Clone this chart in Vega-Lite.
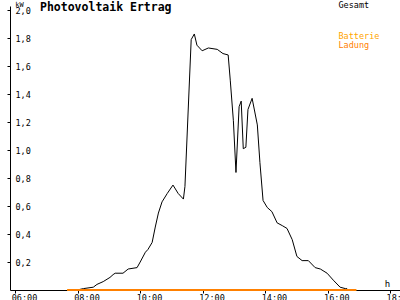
{
  "$schema": "https://vega.github.io/schema/vega-lite/v6.json",
  "width": 390,
  "height": 284,
  "autosize": "none",
  "padding": {"left": 10, "top": 6, "right": 0, "bottom": 10},
  "background": "white",
  "title": {
    "text": "Photovoltaik Ertrag",
    "anchor": "start",
    "frame": "group",
    "font": "DejaVu Sans Mono",
    "fontSize": 11.5,
    "fontWeight": "bold",
    "color": "black",
    "dx": 30,
    "dy": 13,
    "offset": 0
  },
  "datasets": {
    "gesamt": [
      {"t": "2024-06-01T07:59", "kW": 0, "series": "Gesamt"},
      {"t": "2024-06-01T08:11", "kW": 0.01, "series": "Gesamt"},
      {"t": "2024-06-01T08:30", "kW": 0.02, "series": "Gesamt"},
      {"t": "2024-06-01T08:37", "kW": 0.04, "series": "Gesamt"},
      {"t": "2024-06-01T08:49", "kW": 0.06, "series": "Gesamt"},
      {"t": "2024-06-01T09:02", "kW": 0.09, "series": "Gesamt"},
      {"t": "2024-06-01T09:08", "kW": 0.11, "series": "Gesamt"},
      {"t": "2024-06-01T09:12", "kW": 0.12, "series": "Gesamt"},
      {"t": "2024-06-01T09:27", "kW": 0.12, "series": "Gesamt"},
      {"t": "2024-06-01T09:37", "kW": 0.15, "series": "Gesamt"},
      {"t": "2024-06-01T09:54", "kW": 0.16, "series": "Gesamt"},
      {"t": "2024-06-01T10:00", "kW": 0.2, "series": "Gesamt"},
      {"t": "2024-06-01T10:10", "kW": 0.27, "series": "Gesamt"},
      {"t": "2024-06-01T10:15", "kW": 0.29, "series": "Gesamt"},
      {"t": "2024-06-01T10:23", "kW": 0.34, "series": "Gesamt"},
      {"t": "2024-06-01T10:29", "kW": 0.45, "series": "Gesamt"},
      {"t": "2024-06-01T10:35", "kW": 0.55, "series": "Gesamt"},
      {"t": "2024-06-01T10:42", "kW": 0.63, "series": "Gesamt"},
      {"t": "2024-06-01T10:52", "kW": 0.69, "series": "Gesamt"},
      {"t": "2024-06-01T11:03", "kW": 0.75, "series": "Gesamt"},
      {"t": "2024-06-01T11:13", "kW": 0.69, "series": "Gesamt"},
      {"t": "2024-06-01T11:23", "kW": 0.65, "series": "Gesamt"},
      {"t": "2024-06-01T11:26", "kW": 0.74, "series": "Gesamt"},
      {"t": "2024-06-01T11:38", "kW": 1.79, "series": "Gesamt"},
      {"t": "2024-06-01T11:44", "kW": 1.83, "series": "Gesamt"},
      {"t": "2024-06-01T11:49", "kW": 1.75, "series": "Gesamt"},
      {"t": "2024-06-01T11:59", "kW": 1.71, "series": "Gesamt"},
      {"t": "2024-06-01T12:11", "kW": 1.73, "series": "Gesamt"},
      {"t": "2024-06-01T12:28", "kW": 1.72, "series": "Gesamt"},
      {"t": "2024-06-01T12:39", "kW": 1.69, "series": "Gesamt"},
      {"t": "2024-06-01T12:49", "kW": 1.68, "series": "Gesamt"},
      {"t": "2024-06-01T12:53", "kW": 1.5, "series": "Gesamt"},
      {"t": "2024-06-01T12:59", "kW": 1.21, "series": "Gesamt"},
      {"t": "2024-06-01T13:04", "kW": 0.84, "series": "Gesamt"},
      {"t": "2024-06-01T13:10", "kW": 1.31, "series": "Gesamt"},
      {"t": "2024-06-01T13:14", "kW": 1.35, "series": "Gesamt"},
      {"t": "2024-06-01T13:18", "kW": 1.01, "series": "Gesamt"},
      {"t": "2024-06-01T13:23", "kW": 1.02, "series": "Gesamt"},
      {"t": "2024-06-01T13:27", "kW": 1.29, "series": "Gesamt"},
      {"t": "2024-06-01T13:35", "kW": 1.37, "series": "Gesamt"},
      {"t": "2024-06-01T13:45", "kW": 1.18, "series": "Gesamt"},
      {"t": "2024-06-01T13:50", "kW": 0.91, "series": "Gesamt"},
      {"t": "2024-06-01T13:56", "kW": 0.64, "series": "Gesamt"},
      {"t": "2024-06-01T14:04", "kW": 0.59, "series": "Gesamt"},
      {"t": "2024-06-01T14:13", "kW": 0.56, "series": "Gesamt"},
      {"t": "2024-06-01T14:23", "kW": 0.48, "series": "Gesamt"},
      {"t": "2024-06-01T14:33", "kW": 0.46, "series": "Gesamt"},
      {"t": "2024-06-01T14:42", "kW": 0.44, "series": "Gesamt"},
      {"t": "2024-06-01T14:52", "kW": 0.36, "series": "Gesamt"},
      {"t": "2024-06-01T15:01", "kW": 0.24, "series": "Gesamt"},
      {"t": "2024-06-01T15:11", "kW": 0.21, "series": "Gesamt"},
      {"t": "2024-06-01T15:23", "kW": 0.21, "series": "Gesamt"},
      {"t": "2024-06-01T15:36", "kW": 0.16, "series": "Gesamt"},
      {"t": "2024-06-01T15:46", "kW": 0.15, "series": "Gesamt"},
      {"t": "2024-06-01T15:59", "kW": 0.12, "series": "Gesamt"},
      {"t": "2024-06-01T16:11", "kW": 0.07, "series": "Gesamt"},
      {"t": "2024-06-01T16:24", "kW": 0.02, "series": "Gesamt"},
      {"t": "2024-06-01T16:34", "kW": 0.01, "series": "Gesamt"},
      {"t": "2024-06-01T16:37", "kW": 0.01, "series": "Gesamt"},
      {"t": "2024-06-01T16:38", "kW": 0, "series": "Gesamt"}
    ],
    "batterie": [
      {"t": "2024-06-01T07:40", "kW": 0, "series": "Batterie"},
      {"t": "2024-06-01T16:55", "kW": 0, "series": "Batterie"},
      {"t": "2024-06-01T07:40", "kW": 0, "series": "Ladung"},
      {"t": "2024-06-01T16:55", "kW": 0, "series": "Ladung"}
    ]
  },
  "encoding": {
    "x": {
      "field": "t",
      "type": "temporal",
      "scale": {
        "domain": [
          {"year": 2024, "month": 6, "date": 1, "hours": 5, "minutes": 50},
          {"year": 2024, "month": 6, "date": 1, "hours": 18, "minutes": 19}
        ],
        "nice": false
      },
      "axis": {
        "values": [
          {"year": 2024, "month": 6, "date": 1, "hours": 6},
          {"year": 2024, "month": 6, "date": 1, "hours": 8},
          {"year": 2024, "month": 6, "date": 1, "hours": 10},
          {"year": 2024, "month": 6, "date": 1, "hours": 12},
          {"year": 2024, "month": 6, "date": 1, "hours": 14},
          {"year": 2024, "month": 6, "date": 1, "hours": 16},
          {"year": 2024, "month": 6, "date": 1, "hours": 18}
        ],
        "format": "%H:%M",
        "grid": false,
        "domainColor": "black",
        "tickColor": "black",
        "tickSize": 3,
        "labelFont": "DejaVu Sans Mono",
        "labelFontSize": 8.5,
        "labelColor": "black",
        "labelAlign": "left",
        "labelBaseline": "top",
        "labelOffset": -4,
        "labelPadding": 0,
        "labelOverlap": false,
        "labelFlush": false,
        "labelBound": false,
        "title": "h",
        "titleFont": "DejaVu Sans Mono",
        "titleFontSize": 9,
        "titleFontWeight": "normal",
        "titleColor": "black",
        "titleAlign": "center",
        "titleBaseline": "middle",
        "titleX": 377,
        "titleY": -7
      }
    },
    "y": {
      "field": "kW",
      "type": "quantitative",
      "scale": {"domain": [0, 2.03], "nice": false, "zero": true},
      "axis": {
        "values": [0.2, 0.4, 0.6, 0.8, 1.0, 1.2, 1.4, 1.6, 1.8, 2.0],
        "labelExpr": "replace(format(datum.value, '.1f'), '.', ',')",
        "grid": false,
        "domainColor": "black",
        "tickColor": "black",
        "tickSize": 3,
        "labelFont": "DejaVu Sans Mono",
        "labelFontSize": 8.5,
        "labelColor": "black",
        "labelAlign": "left",
        "labelBaseline": "middle",
        "labelPadding": -8,
        "labelOverlap": false,
        "labelFlush": false,
        "labelBound": false,
        "title": "kW",
        "titleFont": "DejaVu Sans Mono",
        "titleFontSize": 7,
        "titleFontWeight": "normal",
        "titleColor": "black",
        "titleAngle": 0,
        "titleAlign": "center",
        "titleBaseline": "middle",
        "titleX": 9,
        "titleY": -2
      }
    }
  },
  "layer": [
    {
      "data": {"name": "gesamt"},
      "mark": {"type": "line", "strokeWidth": 1, "clip": false},
      "encoding": {
        "color": {
          "field": "series",
          "type": "nominal",
          "scale": {"domain": ["Gesamt"], "range": ["black"]},
          "legend": {
            "orient": "none",
            "legendX": 320,
            "legendY": -5,
            "title": null,
            "padding": 0,
            "symbolSize": 0,
            "symbolStrokeWidth": 0,
            "symbolOpacity": 0,
            "labelOffset": 0,
            "labelFont": "DejaVu Sans Mono",
            "labelFontSize": 8.5,
            "labelColor": "black"
          }
        }
      }
    },
    {
      "data": {"name": "batterie"},
      "mark": {"type": "line", "strokeWidth": 2, "clip": false},
      "encoding": {
        "color": {
          "field": "series",
          "type": "nominal",
          "scale": {"domain": ["Batterie", "Ladung"], "range": ["#FFA500", "#FF8000"]},
          "legend": {
            "orient": "none",
            "legendX": 320,
            "legendY": 26,
            "title": null,
            "padding": 0,
            "rowPadding": 0,
            "symbolSize": 0,
            "symbolStrokeWidth": 0,
            "symbolOpacity": 0,
            "labelOffset": 0,
            "labelFont": "DejaVu Sans Mono",
            "labelFontSize": 8.5,
            "labelColor": {"expr": "datum.value == 'Batterie' ? '#FFA500' : '#FF8000'"}
          }
        }
      }
    }
  ],
  "resolve": {"scale": {"color": "independent"}, "legend": {"color": "independent"}},
  "config": {"view": {"stroke": null}, "font": "DejaVu Sans Mono"}
}
